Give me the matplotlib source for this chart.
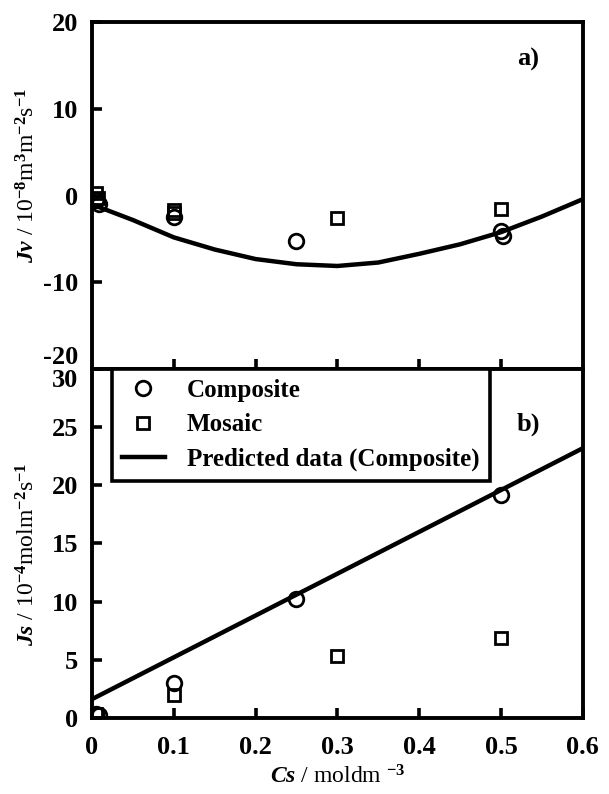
import numpy as np
import matplotlib
matplotlib.use('Agg')
import matplotlib.pyplot as plt

plt.rcParams['font.family'] = 'Liberation Serif'
plt.rcParams['font.weight'] = 'bold'
plt.rcParams['axes.unicode_minus'] = False
plt.rcParams['mathtext.fontset'] = 'custom'
plt.rcParams['mathtext.rm'] = 'Liberation Serif:bold'
plt.rcParams['mathtext.it'] = 'Liberation Serif:italic:bold'
plt.rcParams['mathtext.bf'] = 'Liberation Serif:bold'

# panel a) volume flux
jv_comp_x = [0.005, 0.008, 0.1, 0.25, 0.5, 0.502]
jv_comp_y = [-0.5, -1.0, -2.5, -5.2, -4.1, -4.6]
jv_mos_x = [0.005, 0.007, 0.1, 0.1, 0.3, 0.5]
jv_mos_y = [0.3, -0.3, -1.7, -2.0, -2.6, -1.5]
jv_pred_x = [0.0, 0.05, 0.1, 0.15, 0.2, 0.25, 0.3, 0.35, 0.4, 0.45, 0.5, 0.55, 0.6]
jv_pred_y = [-1.0, -2.8, -4.8, -6.2, -7.3, -7.9, -8.1, -7.7, -6.7, -5.6, -4.2, -2.4, -0.4]

# panel b) solute flux
js_comp_x = [0.005, 0.008, 0.1, 0.25, 0.5]
js_comp_y = [0.3, 0.2, 3.0, 10.2, 19.2]
js_mos_x = [0.005, 0.1, 0.3, 0.5]
js_mos_y = [0.3, 2.0, 5.3, 6.9]
js_pred_x = [0.0, 0.6]
js_pred_y = [1.6, 23.2]

fig = plt.figure(figsize=(6.09, 7.94), dpi=100)
ax1 = fig.add_axes([0.151, 0.535, 0.806, 0.437])
ax2 = fig.add_axes([0.151, 0.096, 0.806, 0.439])

circ = dict(linestyle='none', marker='o', markerfacecolor='none', markeredgecolor='black',
            markeredgewidth=2, markersize=10.5)
sq = dict(linestyle='none', marker='s', markerfacecolor='none', markeredgecolor='black',
          markeredgewidth=2, markersize=9)

ax1.plot(jv_comp_x, jv_comp_y, **circ)
ax1.plot(jv_mos_x, jv_mos_y, **sq)
ax1.plot(jv_pred_x, jv_pred_y, color='black', linewidth=3.2)

l1, = ax2.plot(js_comp_x, js_comp_y, **circ)
l2, = ax2.plot(js_mos_x, js_mos_y, **sq)
l3, = ax2.plot(js_pred_x, js_pred_y, color='black', linewidth=3.2)

ax1.set_xlim(0, 0.6)
ax1.set_ylim(-20, 20)
ax1.set_yticks([-20, -10, 0, 10, 20])
ax1.set_xticks([0.1, 0.2, 0.3, 0.4, 0.5])
ax1.set_xticklabels([])

ax2.set_xlim(0, 0.6)
ax2.set_ylim(0, 30)
ax2.set_yticks([0, 5, 10, 15, 20, 25, 30])
ax2.set_xticks([0, 0.1, 0.2, 0.3, 0.4, 0.5, 0.6])
ax2.set_xticklabels(['0', '0.1', '0.2', '0.3', '0.4', '0.5', '0.6'])

for ax in (ax1, ax2):
    for s in ax.spines.values():
        s.set_linewidth(2.8)
    ax.tick_params(direction='in', length=7, width=2.6, labelsize=19,
                   top=False, right=False)
    ax.tick_params(axis='x', pad=13)
    ax.tick_params(axis='y', pad=10)

# keep "-20" and "30" apart at the shared edge
ax1.get_yticklabels()[0].set_va('bottom')
ax2.get_yticklabels()[-1].set_va('top')

ax1.set_ylabel(r'$Jv$ / 10$^{-8}$m$^{3}$m$^{-2}$s$^{-1}$', fontsize=17)
ax2.set_ylabel(r'$Js$ / 10$^{-4}$molm$^{-2}$s$^{-1}$', fontsize=17)
ax1.yaxis.set_label_coords(-0.106, 0.56)
ax2.yaxis.set_label_coords(-0.106, 0.47)
ax2.set_xlabel(r'$Cs$ / moldm $^{-3}$', fontsize=17, labelpad=5)

ax1.text(0.533, 15.7, 'a)', fontsize=19, ha='center', va='center')
ax2.text(0.533, 25.3, 'b)', fontsize=19, ha='center', va='center')

leg = ax2.legend([l1, l2, l3], ['Composite', 'Mosaic', 'Predicted data (Composite)'],
                 loc='upper left', bbox_to_anchor=(0.041, 1.0), fontsize=18,
                 fancybox=False, framealpha=1, edgecolor='black',
                 handlelength=1.7, borderaxespad=0, borderpad=0.4,
                 labelspacing=0.45, handletextpad=0.9)
leg.get_frame().set_linewidth(2.6)

fig.savefig('out.png', dpi=100)
